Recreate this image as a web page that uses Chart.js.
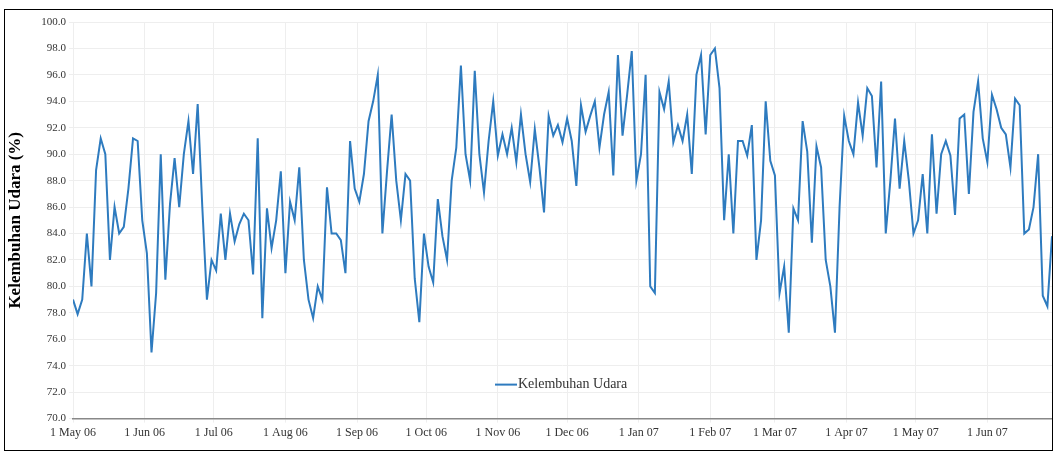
<!DOCTYPE html>
<html>
<head>
<meta charset="utf-8">
<script src="https://cdn.jsdelivr.net/npm/chart.js@4"></script>
<style>
    body { margin: 0; background: #fff; }
    #wrap { position: absolute; left: 4px; top: 9px; width: 1047px; height: 440px; border: 1px solid #000; }
</style>
</head>
<body>
<div id="wrap"><canvas id="chart"></canvas></div>
<script>
// one reading every 2 days starting 1 May 2006
const stepDays = 2;
const humidity = [
    79, 77.9, 79, 84, 80, 88.8, 91.2, 90, 82, 86, 84, 84.5, 87.4, 91.2, 91, 85, 82.5, 75, 79.5, 90,
    80.5, 86.2, 89.7, 86, 90, 92.5, 88.5, 93.8, 86, 79, 82, 81.2, 85.5, 82, 85.5, 83.4, 84.7, 85.5, 85, 80.9,
    91.2, 77.6, 85.9, 82.9, 85, 88.7, 81, 86.4, 85, 89, 82, 79, 77.6, 80, 79, 87.5, 84, 84, 83.5, 81,
    91, 87.4, 86.4, 88.5, 92.5, 94, 96, 84, 88.7, 93, 88, 85, 88.5, 88, 80.6, 77.3, 84, 81.5, 80.3, 86.6,
    83.8, 82, 88, 90.5, 96.7, 90, 88, 96.3, 90, 87.1, 91, 94, 89.9, 91.5, 90, 92, 89.4, 93, 90, 87.9,
    91.9, 89, 85.6, 92.9, 91.4, 92.2, 90.9, 92.7, 91, 87.6, 93.7, 91.7, 92.9, 94, 90.5, 93, 94.7, 88.4, 97.5, 91.4,
    94.5, 97.8, 88, 90, 96, 80, 79.5, 94.7, 93.4, 95.5, 90.9, 92.2, 91, 93, 88.5, 96, 97.5, 91.5, 97.5, 98,
    95, 85, 90, 84, 91, 91, 89.9, 92.2, 82, 85, 94, 89.5, 88.4, 79.5, 81.5, 76.5, 85.9, 85, 92.5, 90.2,
    83.3, 90.6, 89, 82, 80, 76.5, 86, 92.9, 91, 90, 93.9, 91.4, 95, 94.4, 89, 95.5, 84, 88, 92.7, 87.4,
    91, 88, 84, 85, 88.5, 84, 91.5, 85.5, 90, 91, 89.9, 85.4, 92.7, 93, 87, 93.2, 95.5, 91.2, 89.4, 94.5,
    93.4, 92, 91.5, 89, 94.2, 93.7, 84, 84.3, 86, 90, 79.3, 78.5, 83.8
];
// day offsets from 1 May 2006 and their labels
const monthDays = [0, 31, 61, 92, 123, 153, 184, 214, 245, 276, 304, 335, 365, 396];
const monthLabels = ['1 May 06', '1 Jun 06', '1 Jul 06', '1 Aug 06', '1 Sep 06', '1 Oct 06', '1 Nov 06',
    '1 Dec 06', '1 Jan 07', '1 Feb 07', '1 Mar 07', '1 Apr 07', '1 May 07', '1 Jun 07'];
const seriesName = 'Kelembuhan Udara';

const points = humidity.map((v, i) => ({ x: i * stepDays, y: v }));

const serif = 'Liberation Serif';

const legendInside = {
    id: 'legendInside',
    afterDraw(chart) {
        const ctx = chart.ctx;
        const x = 490, y = chart.chartArea.bottom - 34;
        ctx.save();
        ctx.strokeStyle = '#2e7bbf';
        ctx.lineWidth = 2;
        ctx.beginPath();
        ctx.moveTo(x, y);
        ctx.lineTo(x + 22, y);
        ctx.stroke();
        ctx.fillStyle = '#333';
        ctx.font = '14px ' + serif;
        ctx.textBaseline = 'middle';
        ctx.fillText(seriesName, x + 23, y);
        ctx.restore();
    }
};

new Chart(document.getElementById('chart'), {
    type: 'line',
    data: {
        datasets: [{
            label: seriesName,
            data: points,
            borderColor: '#2e7bbf',
            borderWidth: 2,
            pointRadius: 0,
            tension: 0
        }]
    },
    options: {
        responsive: true,
        maintainAspectRatio: false,
        animation: false,
        layout: { padding: { top: 12, right: 0, left: 0, bottom: 7 } },
        scales: {
            x: {
                type: 'linear',
                min: 0,
                max: 424,
                afterBuildTicks: axis => { axis.ticks = monthDays.map(d => ({ value: d })); },
                ticks: {
                    autoSkip: false,
                    maxRotation: 0,
                    color: '#333',
                    font: { family: serif, size: 12 },
                    callback: v => monthLabels[monthDays.indexOf(v)]
                },
                grid: { color: '#eeeeee', drawTicks: true, tickLength: 4 },
                border: { color: '#888', width: 1.5 }
            },
            y: {
                min: 70,
                max: 100,
                afterFit: s => { s.width = 68; },
                ticks: {
                    stepSize: 2,
                    color: '#333',
                    font: { family: serif, size: 11 },
                    callback: v => v.toFixed(1)
                },
                grid: { color: '#eeeeee', tickLength: 4 },
                border: { display: false },
                title: {
                    display: true,
                    text: 'Kelembuhan Udara (%)',
                    color: '#000',
                    font: { family: serif, size: 17, weight: 'bold' },
                    padding: 0
                }
            }
        },
        plugins: {
            legend: { display: false },
            tooltip: { enabled: false }
        }
    },
    plugins: [legendInside]
});
</script>
</body>
</html>
